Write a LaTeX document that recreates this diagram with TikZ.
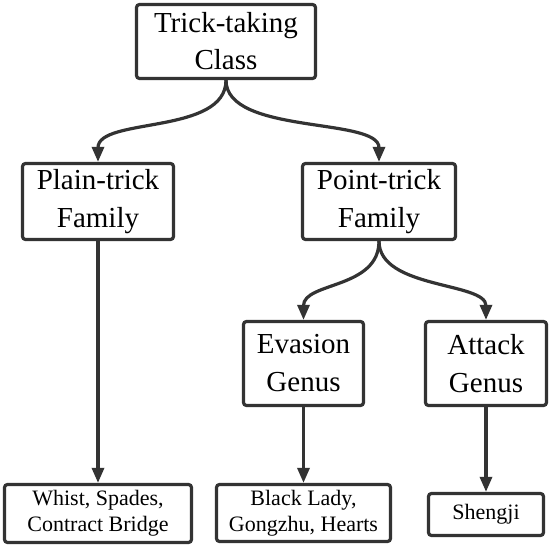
\documentclass[tikz,border=0pt]{standalone}
\usepackage{fontspec}
\setmainfont{Liberation Serif}
\usetikzlibrary{arrows.meta}
\definecolor{edge}{HTML}{333333}
\tikzset{
  box/.style={draw=edge, line width=3.2pt, rounded corners=3pt, fill=white, align=center, inner sep=0pt, text=black},
  bigtxt/.style={box, font=\fontsize{29}{38}\selectfont},
  smalltxt/.style={box, font=\fontsize{22}{26}\selectfont},
  arr/.style={draw=edge, line width=3.2pt, -{Triangle[length=15pt,width=12pt]}}
}
\begin{document}
\begin{tikzpicture}[x=1pt,y=-1pt]
\useasboundingbox (0,0) rectangle (550,546);
\node[bigtxt, font=\fontsize{29}{37}\selectfont, minimum width=179pt, minimum height=74pt] (top) at (226,41.5) {Trick-taking\\Class};
\node[bigtxt, minimum width=151pt, minimum height=76pt] (plain) at (98,201.5) {Plain-trick\\Family};
\node[bigtxt, minimum width=153pt, minimum height=76pt] (point) at (379,201.5) {Point-trick\\Family};
\node[bigtxt, minimum width=120pt, minimum height=84pt] (evasion) at (303.5,363.5) {Evasion\\Genus};
\node[bigtxt, minimum width=121pt, minimum height=84pt] (attack) at (486,363.5) {Attack\\Genus};
\node[smalltxt, minimum width=187pt, minimum height=58pt] (whist) at (98,513.5) {Whist, Spades,\\Contract Bridge};
\node[smalltxt, minimum width=174pt, minimum height=57pt] (black) at (303.5,513) {Black Lady,\\Gongzhu, Hearts};
\node[smalltxt, minimum width=115pt, minimum height=42pt] (shengji) at (486,514.5) {Shengji};
\draw[arr] (top.south) .. controls +(0,55) and +(0,-45) .. (plain.north);
\draw[arr] (top.south) .. controls +(0,55) and +(0,-45) .. (point.north);
\draw[arr] (point.south) .. controls +(0,48) and +(0,-38) .. (evasion.north);
\draw[arr] (point.south) .. controls +(0,48) and +(0,-38) .. (attack.north);
\draw[arr] (plain.south) -- (whist.north);
\draw[arr] (evasion.south) -- (black.north);
\draw[arr] (attack.south) -- (shengji.north);
\end{tikzpicture}
\end{document}
